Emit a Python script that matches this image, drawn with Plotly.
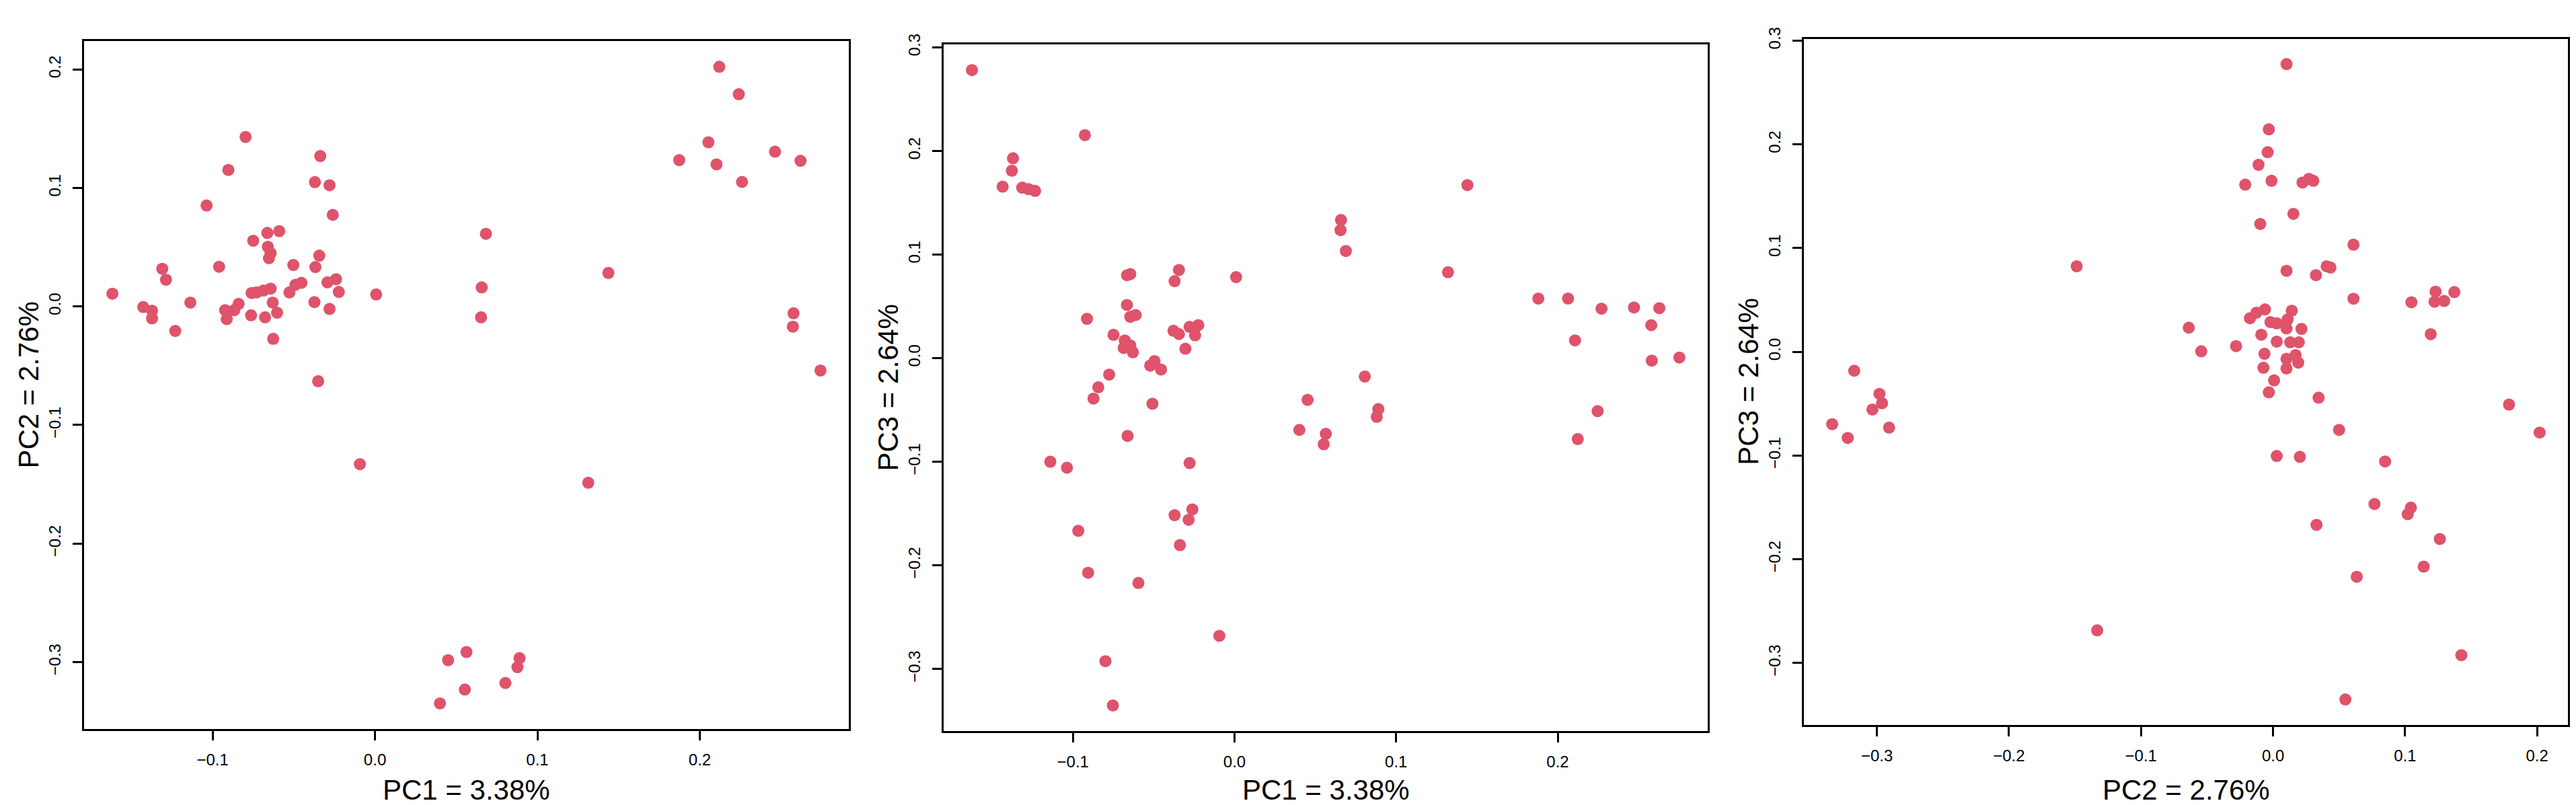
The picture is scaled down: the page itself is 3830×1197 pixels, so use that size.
import plotly.graph_objects as go

# ---------------- data ----------------
# Panel 1: PC1 vs PC2
p1_pc1 = [0.212, 0.224, 0.2053, 0.2463, 0.1873, 0.2103, 0.262, 0.226, -0.0797, -0.0337,
          -0.0903, -0.037, -0.028, -0.1037, -0.026, 0.0683, -0.0663, -0.059, -0.075, -0.066,
          -0.0643, -0.0653, -0.0343, -0.131, -0.096, -0.0503, -0.0367, 0.1437, -0.1287, -0.0453,
          -0.049, -0.024, -0.0293, -0.0527, -0.0223, -0.0643, -0.0687, -0.076, -0.073, -0.1617,
          0.0007, 0.0657, -0.1137, -0.1427, -0.1373, -0.1373, -0.0923, -0.0913, -0.084, -0.0867,
          -0.063, -0.0603, -0.0763, -0.0677, -0.0373, -0.028, 0.0653, -0.123, -0.0627, 0.2577,
          0.2573, 0.2743, -0.035, -0.0093, 0.1313, 0.0563, 0.045, 0.089, 0.0877, 0.0803,
          0.0553, 0.04]
p1_pc2 = [0.2021, 0.179, 0.1384, 0.1305, 0.1234, 0.1198, 0.1228, 0.105, 0.1429, 0.1268,
          0.1151, 0.1048, 0.1022, 0.0851, 0.0772, 0.0612, 0.062, 0.0635, 0.0554, 0.0503,
          0.0449, 0.0406, 0.0428, 0.0317, 0.0334, 0.0349, 0.0332, 0.0282, 0.0225, 0.0199,
          0.0182, 0.0229, 0.0203, 0.0118, 0.0122, 0.015, 0.0133, 0.0113, 0.0118, 0.0107,
          0.0101, 0.016, 0.0032, -0.0006, -0.0036, -0.0101, -0.0032, -0.0107, 0.0021, -0.0032,
          0.0032, -0.0053, -0.0075, -0.0092, 0.0036, -0.0021, -0.0092, -0.0207, -0.0274, -0.0058,
          -0.0171, -0.0541, -0.0631, -0.1331, -0.1488, -0.2916, -0.2985, -0.2967, -0.3044, -0.3177,
          -0.3232, -0.3349]

# Panel 2: PC1 vs PC3
p2_pc1 = [-0.1625, -0.0926, -0.1371, -0.1378, -0.1435, -0.1314, -0.1274, -0.1234, 0.1441, 0.0659,
          0.0656, 0.0689, -0.0645, -0.0665, -0.0344, -0.0371, 0.001, 0.1321, 0.188, 0.2064,
          0.2271, 0.2472, 0.2629, 0.2579, 0.2107, 0.2582, 0.2753, -0.0666, -0.0612, -0.0645,
          -0.0913, -0.0749, -0.0679, -0.0645, -0.0686, -0.0629, -0.0378, -0.0344, -0.0278, -0.0224,
          -0.0244, -0.0304, -0.0495, -0.0522, -0.0455, -0.0776, 0.0806, -0.0843, -0.0873, -0.0508,
          0.0452, 0.089, 0.088, 0.2247, 0.0401, 0.0565, 0.0552, -0.0662, 0.2124, -0.114,
          -0.1037, -0.0278, -0.0261, -0.0371, -0.0284, -0.0967, -0.0338, -0.0906, -0.0595, -0.0094,
          -0.0799, -0.0753]
p2_pc3 = [0.278, 0.2152, 0.1929, 0.1809, 0.1655, 0.1645, 0.1631, 0.1614, 0.167, 0.1333,
          0.1235, 0.1034, 0.0812, 0.08, 0.0851, 0.0743, 0.0782, 0.0829, 0.0575, 0.0575,
          0.0477, 0.0489, 0.0482, 0.0318, 0.0171, -0.0024, 0.0005, 0.0513, 0.0416, 0.0399,
          0.0379, 0.0225, 0.0171, 0.0122, 0.0098, 0.0056, 0.0264, 0.0232, 0.0301, 0.0318,
          0.022, 0.009, -0.0029, -0.0073, -0.011, -0.0159, -0.0178, -0.0281, -0.0391, -0.044,
          -0.0403, -0.0492, -0.0567, -0.0512, -0.0693, -0.0731, -0.0831, -0.0751, -0.0781, -0.1,
          -0.1058, -0.1013, -0.146, -0.1516, -0.1561, -0.1667, -0.1805, -0.2072, -0.217, -0.268,
          -0.2925, -0.3352]

# Panel 3: PC2 vs PC3
p3_pc2 = [0.0102, -0.0032, -0.0041, -0.011, -0.0211, -0.0012, 0.0223, 0.0305, 0.0272, 0.0154,
          -0.0097, 0.0609, -0.1487, 0.0102, 0.0325, 0.0406, 0.0435, 0.0609, 0.1048, 0.1231,
          0.1223, 0.1296, 0.1373, 0.1194, -0.0638, -0.0544, -0.028, -0.0175, -0.0126, -0.0061,
          -0.002, 0.0028, 0.0142, 0.011, 0.0102, 0.0215, -0.0089, 0.0028, 0.013, 0.0195,
          -0.0065, 0.0171, 0.0102, 0.0191, -0.0073, 0.0102, 0.0008, -0.0032, 0.0345, 0.1787,
          -0.3172, -0.2981, -0.2961, -0.3034, -0.3339, -0.3221, -0.2908, 0.05, 0.2019, 0.0028,
          0.0203, 0.0849, 0.0768, 0.1044, 0.102, 0.0329, 0.1263, 0.1141, 0.0634, -0.1332,
          0.1426, 0.0548]
p3_pc3 = [0.2773, 0.2144, 0.1924, 0.1802, 0.1611, 0.1648, 0.1631, 0.1648, 0.1667, 0.133,
          0.1232, 0.1032, 0.0824, 0.078, 0.0738, 0.0824, 0.0812, 0.0511, 0.0477, 0.0579,
          0.0482, 0.0489, 0.0575, 0.0169, 0.0232, 0.0005, 0.0054, 0.0323, 0.0377, 0.0408,
          0.0286, 0.0274, 0.0396, 0.0311, 0.0225, 0.022, 0.0164, 0.0098, 0.0091, 0.0091,
          -0.002, -0.0032, -0.0068, -0.0105, -0.0154, -0.0161, -0.0276, -0.0391, -0.0443, -0.0509,
          -0.0183, -0.0406, -0.0496, -0.0557, -0.0698, -0.0831, -0.0731, -0.0753, -0.0779, -0.1005,
          -0.1013, -0.1058, -0.1468, -0.1503, -0.1566, -0.1669, -0.1805, -0.2072, -0.217, -0.2686,
          -0.2925, -0.3352]

x_titles = ["PC1 = 3.38%", "PC1 = 3.38%", "PC2 = 2.76%"]
y_titles = ["PC2 = 2.76%", "PC3 = 2.64%", "PC3 = 2.64%"]
ticks_x = [[-0.1, 0.0, 0.1, 0.2], [-0.1, 0.0, 0.1, 0.2], [-0.3, -0.2, -0.1, 0.0, 0.1, 0.2]]
ticks_y = [[-0.3, -0.2, -0.1, 0.0, 0.1, 0.2], [-0.3, -0.2, -0.1, 0.0, 0.1, 0.2, 0.3],
           [-0.3, -0.2, -0.1, 0.0, 0.1, 0.2, 0.3]]

panels = [(p1_pc1, p1_pc2), (p2_pc1, p2_pc3), (p3_pc2, p3_pc3)]

# ---------------- layout geometry (pixels) ----------------
W, H = 3830, 1197
boxes = [(117, 1254, 37, 1074), (1395, 2531, 42, 1077), (2674, 3810, 33, 1068)]
POINT = "#DF536B"
FONT = "Liberation Sans, Arial, Helvetica, sans-serif"


def r_range(v):
    lo, hi = min(v), max(v)
    pad = 0.04 * (hi - lo)
    return [lo - pad, hi + pad]


fig = go.Figure()
annotations = []
for i, ((xs, ys), (l, r, t, b)) in enumerate(zip(panels, boxes)):
    n = "" if i == 0 else str(i + 1)
    fig.add_trace(go.Scatter(
        x=xs, y=ys, mode="markers", xaxis="x" + n, yaxis="y" + n,
        marker=dict(size=18, color=POINT, line=dict(width=0)),
        showlegend=False, hoverinfo="x+y"))
    common = dict(showgrid=False, zeroline=False, showline=True, mirror=True,
                  linecolor="black", linewidth=3, ticks="outside", ticklen=14,
                  tickwidth=3, tickcolor="black", tickformat=".1f",
                  tickfont=dict(family=FONT, size=24, color="black"))
    fig.update_layout(**{
        "xaxis" + n: dict(domain=[l / W, r / W], range=r_range(xs), anchor="y" + n,
                          tickvals=ticks_x[i], ticklabelstandoff=8, **common),
        "yaxis" + n: dict(domain=[1 - b / H, 1 - t / H], range=r_range(ys), anchor="x" + n,
                          tickvals=ticks_y[i], tickangle=-90, ticklabelstandoff=8, **common),
    })
    annotations.append(dict(text=x_titles[i], xref="paper", yref="paper",
                            x=(l + r) / 2 / W, y=1 - 1166 / H, showarrow=False,
                            xanchor="center", yanchor="middle",
                            font=dict(family=FONT, size=42, color="black")))
    annotations.append(dict(text=y_titles[i], xref="paper", yref="paper",
                            x=(l - 82) / W, y=1 - (t + b) / 2 / H, showarrow=False,
                            textangle=-90, xanchor="center", yanchor="middle",
                            font=dict(family=FONT, size=42, color="black")))

fig.update_layout(width=W, height=H, margin=dict(l=0, r=0, t=0, b=0),
                  paper_bgcolor="white", plot_bgcolor="white",
                  annotations=annotations)

fig.write_html("out.html")
